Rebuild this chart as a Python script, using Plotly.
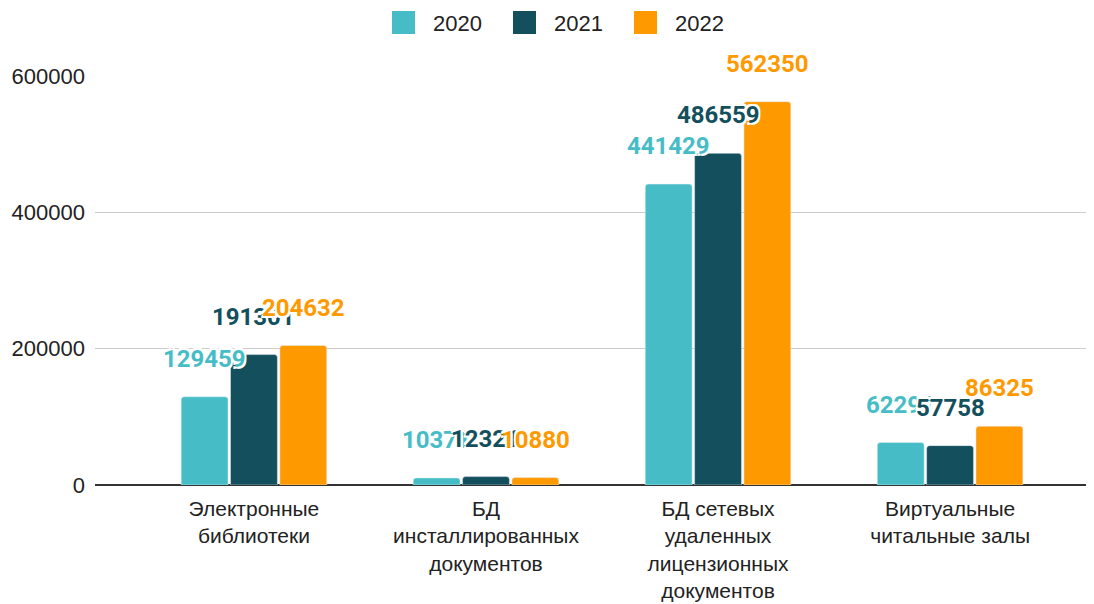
import plotly.graph_objects as go

categories = [
    "Электронные<br>библиотеки",
    "БД<br>инсталлированных<br>документов",
    "БД сетевых<br>удаленных<br>лицензионных<br>документов",
    "Виртуальные<br>читальные залы",
]
years = ["2020", "2021", "2022"]
values_2020 = [129459, 10371, 441429, 62291]
values_2021 = [191301, 12321, 486559, 57758]
values_2022 = [204632, 10880, 562350, 86325]
colors = ["#46bdc6", "#134f5c", "#ff9900"]

series = [values_2020, values_2021, values_2022]
xpos = list(range(len(categories)))

# page body has an 8px margin, so the figure is shrunk by that much
W, H = 1086, 596
L, R, T, B = 87, 4, 68, 119
pw, ph = W - L - R, H - T - B

fig = go.Figure()
for name, vals, col in zip(years, series, colors):
    fig.add_trace(go.Bar(x=xpos, y=vals, name=name, marker_color=col,
                         showlegend=False))

# data labels above each bar
slot = 0.2126
halo = "2px 2px 0 white, -2px -2px 0 white, 2px -2px 0 white, -2px 2px 0 white"
for i, (vals, col) in enumerate(zip(series, colors)):
    for k, v in enumerate(vals):
        fig.add_annotation(
            x=k + (i - 1) * slot, y=v, text=str(v), showarrow=False,
            xref="x", yref="y", yanchor="middle", yshift=38,
            font=dict(family="Roboto", size=24, color=col, weight="bold",
                      shadow=halo),
        )

# legend drawn by hand to get the large rounded squares
leg_x0 = 384
for i, (name, col) in enumerate(zip(years, colors)):
    x0 = leg_x0 + i * 121
    fig.add_shape(type="rect", xref="paper", yref="paper",
                  x0=(x0 - L) / pw, x1=(x0 + 23 - L) / pw,
                  y0=1 + (T - 26) / ph, y1=1 + (T - 3) / ph,
                  fillcolor=col, line=dict(width=0))
    fig.add_annotation(xref="paper", yref="paper",
                       x=(x0 + 39 - L) / pw, y=1 + (T - 15) / ph,
                       xanchor="left", yanchor="middle", text=name, showarrow=False,
                       font=dict(family="Liberation Sans", size=22, color="#222"))

fig.update_layout(
    barmode="group", bargap=0.362, bargroupgap=0.05, barcornerradius=3,
    width=W, height=H, plot_bgcolor="white", paper_bgcolor="white",
    margin=dict(l=L, r=R, t=T, b=B),
    font=dict(family="Liberation Sans", size=21, color="#222"),
)
fig.update_xaxes(range=[-0.685, 3.603], tickvals=xpos, ticktext=categories,
                 showgrid=False, ticks="", zeroline=False, automargin=False,
                 tickfont=dict(size=21), ticklabelstandoff=9)
fig.update_yaxes(range=[0, 600000], tickvals=[0, 200000, 400000, 600000],
                 tickformat="d", gridcolor="#cccccc", gridwidth=1,
                 zeroline=True, zerolinecolor="#333333", zerolinewidth=2,
                 ticklabelstandoff=9, tickfont=dict(size=22), automargin=False)

fig.write_html("out.html")
